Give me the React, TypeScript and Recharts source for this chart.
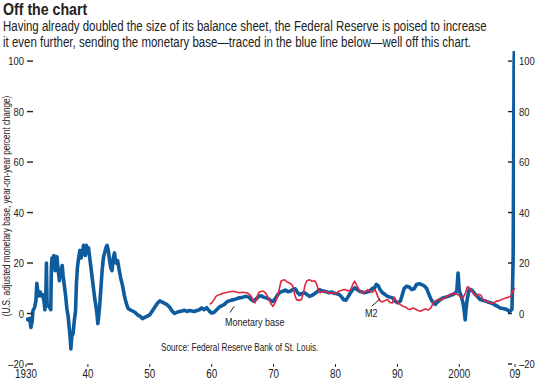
import { LineChart, Line, XAxis, YAxis, ReferenceLine } from 'recharts'

// monetary base, year-on-year % change
const baseYears = [
  1930.0, 1930.3, 1930.6, 1930.8, 1931.0, 1931.1, 1931.4, 1931.6, 1931.75, 1931.9,
  1932.1, 1932.3, 1932.5, 1932.7, 1932.9, 1933.05, 1933.2, 1933.3, 1933.4, 1933.6,
  1933.8, 1934.0, 1934.1, 1934.2, 1934.4, 1934.5, 1934.7, 1934.85, 1935.0, 1935.2,
  1935.4, 1935.6, 1935.85, 1936.0, 1936.2, 1936.4, 1936.6, 1936.8, 1937.0, 1937.15,
  1937.25, 1937.4, 1937.6, 1937.8, 1938.0, 1938.15, 1938.3, 1938.5, 1938.7, 1938.9,
  1939.1, 1939.3, 1939.45, 1939.6, 1939.75, 1939.9, 1940.1, 1940.3, 1940.5, 1940.7,
  1940.9, 1941.1, 1941.3, 1941.5, 1941.6, 1941.75, 1941.9, 1942.1, 1942.3, 1942.5,
  1942.7, 1942.9, 1943.1, 1943.3, 1943.5, 1943.7, 1943.9, 1944.1, 1944.3, 1944.45,
  1944.6, 1944.8, 1945.0, 1945.3, 1945.6, 1945.9, 1946.2, 1946.5, 1946.8, 1947.2,
  1947.6, 1948.0, 1948.4, 1948.8, 1949.2, 1949.6, 1950.0, 1950.4, 1950.8, 1951.2,
  1951.6, 1952.0, 1952.4, 1952.8, 1953.2, 1953.6, 1954.0, 1954.4, 1954.8, 1955.2,
  1955.6, 1956.0, 1956.4, 1956.8, 1957.2, 1957.6, 1958.0, 1958.4, 1958.8, 1959.2,
  1959.6, 1960.0, 1960.4, 1960.8, 1961.2, 1961.6, 1962.0, 1962.4, 1962.8, 1963.2,
  1963.6, 1964.0, 1964.4, 1964.8, 1965.2, 1965.6, 1966.0, 1966.4, 1966.8, 1967.2,
  1967.6, 1968.0, 1968.4, 1968.8, 1969.2, 1969.6, 1969.9, 1970.3, 1970.7, 1971.1,
  1971.5, 1971.9, 1972.3, 1972.7, 1973.1, 1973.5, 1973.9, 1974.2, 1974.6, 1975.0,
  1975.4, 1975.8, 1976.2, 1976.6, 1977.0, 1977.4, 1977.8, 1978.2, 1978.6, 1979.0,
  1979.4, 1979.8, 1980.2, 1980.6, 1981.0, 1981.3, 1981.7, 1982.0, 1982.4, 1982.8,
  1983.1, 1983.5, 1983.9, 1984.3, 1984.7, 1985.1, 1985.5, 1985.9, 1986.3, 1986.6,
  1986.9, 1987.2, 1987.6, 1988.0, 1988.4, 1988.8, 1989.2, 1989.6, 1990.1, 1990.5,
  1990.8, 1991.1, 1991.5, 1991.9, 1992.3, 1992.7, 1993.1, 1993.5, 1993.9, 1994.3,
  1994.7, 1995.0, 1995.4, 1995.8, 1996.1, 1996.5, 1996.9, 1997.4, 1997.8, 1998.2,
  1998.6, 1999.0, 1999.4, 1999.6, 1999.8, 2000.0, 2000.3, 2000.6, 2000.8, 2000.95,
  2001.1, 2001.3, 2001.6, 2001.9, 2002.2, 2002.6, 2003.0, 2003.4, 2003.8, 2004.2,
  2004.6, 2005.0, 2005.4, 2005.8, 2006.2, 2006.6, 2007.0, 2007.4, 2007.8, 2008.1,
  2008.3, 2008.5, 2008.6, 2008.7, 2008.78, 2008.85, 2008.9, 2008.95, 2009.0,
]
const baseValues = [
  -2, -2.5, -2, -5.5, -3, 1, 2.5, 5, 12, 9,
  7, 8.5, 7, 7.5, 5, 1.5, 6, 20, 4, 3,
  2.5, 1.5, 18, 22, 21, 23, 17, 21, 22.5, 17,
  13, 16, 19, 15, 11, 7, 2, -1, -6, -10,
  -14, -9, -8, -3, 1, 12, 18, 22, 25, 22,
  24, 27, 26, 23, 27, 25, 26, 22, 18, 14,
  10, 6, 3, -1, -4, -1, 3, 10, 17, 22,
  24, 26, 27, 25, 21, 18, 17, 22, 24, 21,
  20, 21, 18, 14, 11, 7, 4, 2, 1.5, 1,
  0.5, -0.5, -1, -2, -1.5, -1, -0.5, 1, 2.5, 4,
  5, 4.5, 4, 3.5, 2.5, 1, 0, 0.5, 0.8, 1,
  1.3, 0.8, 1.2, 1, 0.8, 1.2, 1.5, 2.2, 1.5, 2.3,
  1, 0.2, 0.5, 1.5, 2.5, 3, 3.5, 4.5, 5, 5.3,
  5.5, 5.8, 6.2, 6.3, 6.6, 6.8, 6.5, 5.5, 4.9, 5.8,
  6.8, 7, 6.5, 6.2, 5.8, 5, 4.8, 6, 7.5, 8.5,
  8.8, 9.3, 8.6, 8.8, 9.5, 9.8, 8.2, 7.5, 8, 8.2,
  7.5, 6.8, 7.2, 7.8, 8.5, 9.5, 9, 8.8, 8.5, 8.2,
  8.5, 8, 7.8, 7.5, 6.5, 5.5, 5.3, 6.5, 8.2, 9.5,
  10.2, 9.5, 8.8, 8.5, 8.2, 8.5, 8.8, 9.8, 10.2, 11.5,
  11, 9.5, 8.2, 7.5, 6.8, 6.5, 6.2, 5, 4.2, 5,
  7.5, 10, 10.8, 10.5, 9.5, 9.8, 11.5, 11.8, 11.5, 11,
  10, 8.2, 5.8, 4.2, 3.6, 4.6, 5.5, 6.2, 6.5, 6.8,
  7.2, 7.5, 8.2, 9, 16, 9, 7, 4.2, 1, -2.5,
  2, 6, 9.5, 9.5, 8.8, 7.5, 6.5, 5.5, 5.2, 5,
  4.6, 4.3, 4, 3.3, 2.8, 2.2, 2, 1.8, 1.4, 0.8,
  1.2, 1.6, 10, 22, 60, 100, 104, 98, 87,
]

// M2, year-on-year % change
const m2Years = [
  1959.7, 1960.0, 1960.3, 1960.7, 1961.0, 1961.4, 1961.8, 1962.2, 1962.6, 1963.0,
  1963.5, 1964.0, 1964.5, 1965.0, 1965.6, 1966.0, 1966.4, 1966.8, 1967.0, 1967.3,
  1967.6, 1968.0, 1968.4, 1968.8, 1969.2, 1969.6, 1969.9, 1970.2, 1970.6, 1970.9,
  1971.2, 1971.5, 1971.8, 1972.1, 1972.5, 1972.9, 1973.1, 1973.4, 1973.7, 1974.1,
  1974.5, 1974.8, 1975.1, 1975.4, 1975.8, 1976.2, 1976.6, 1976.9, 1977.2, 1977.5,
  1978.0, 1978.5, 1979.0, 1979.6, 1980.0, 1980.5, 1981.0, 1981.5, 1982.0, 1982.4,
  1982.8, 1983.1, 1983.5, 1983.9, 1984.4, 1984.8, 1985.2, 1985.6, 1986.0, 1986.4,
  1986.8, 1987.2, 1987.6, 1988.0, 1988.4, 1988.8, 1989.2, 1989.5, 1989.8, 1990.1,
  1990.5, 1990.9, 1991.3, 1991.7, 1992.1, 1992.5, 1992.9, 1993.3, 1993.7, 1994.1,
  1994.5, 1995.0, 1995.4, 1995.8, 1996.2, 1996.6, 1997.0, 1997.4, 1997.8, 1998.2,
  1998.6, 1999.0, 1999.4, 1999.8, 2000.2, 2000.6, 2001.0, 2001.3, 2001.6, 2001.9,
  2002.3, 2002.7, 2003.1, 2003.5, 2003.9, 2004.3, 2004.7, 2005.1, 2005.5, 2005.9,
  2006.3, 2006.7, 2007.1, 2007.5, 2007.9, 2008.3, 2008.6, 2008.8, 2009.0,
]
const m2Values = [
  3.6, 4.2, 5.2, 6.8, 7.3, 7.5, 8, 8.2, 8.4, 8.6,
  8.8, 8.5, 8.2, 8.4, 8.2, 7.8, 6.8, 4.5, 4.2, 6.5,
  8.3, 8.8, 8.8, 7.8, 6, 3.8, 2.8, 4, 6.5, 9.5,
  12.8, 13.2, 13.4, 12.6, 12.2, 11.5, 10.8, 7.5, 5.5, 5.2,
  5.5, 8, 11.5, 13, 13.4, 12.8, 13, 12, 9.5, 8.2,
  8.8, 8.5, 8, 8.2, 7.8, 8.8, 9.2, 9.5, 9, 9.2,
  11.5, 12.8, 10.8, 9, 8.2, 8.6, 9.5, 8.8, 8.4, 9.5,
  7, 5, 4.6, 5.2, 5.6, 4.4, 4.2, 6.5, 5.2, 4.2,
  3.5, 2.9, 2.6, 1.8, 1.6, 2.2, 1.8, 1.2, 0.9, 1.4,
  1.8, 1.4, 2.2, 4.2, 5.2, 5.6, 5.4, 6, 6.4, 7,
  7.8, 7.5, 8, 7.4, 6.6, 6.2, 8.2, 10.6, 10.2, 9.2,
  8.2, 6.8, 7.6, 7.2, 5.4, 5, 4.6, 4.2, 4, 4.8,
  5, 5.4, 5.8, 6.2, 6.4, 6.8, 8.5, 9.5, 10,
]

const xTicks = [1930, 1940, 1950, 1960, 1970, 1980, 1990, 2000, 2009]
const xTickLabels = ['1930', '40', '50', '60', '70', '80', '90', '2000', '09']
const yTicks = [-20, 0, 20, 40, 60, 80, 100]
const yTickLabels = ['\u201320', '0', '20', '40', '60', '80', '100']

const baseData = baseYears.map((year, i) => ({ year, base: baseValues[i] }))
const m2Data = m2Years.map((year, i) => ({ year, m2: m2Values[i] }))

// Liberation Sans squeezed to 82% ~ Arial Narrow
const FONT = '"Liberation Sans", Arial, sans-serif'
const NARROW = 0.82
const BLUE = '#0e5b9e'
const RED = '#dc2840'
const TEXT = '#222'

interface TickProps {
  x?: number
  y?: number
  payload?: { value: number }
}

interface NarrowTextProps {
  x: number
  y: number
  size: number
  anchor?: 'start' | 'middle' | 'end'
  rotate?: number
  bold?: boolean
  children: React.ReactNode
}

const NarrowText = ({ x, y, size, anchor = 'start', rotate = 0, bold, children }: NarrowTextProps) => (
  <text
    transform={`translate(${x},${y}) rotate(${rotate}) scale(${NARROW},1)`}
    fontSize={size}
    fontFamily={FONT}
    fontWeight={bold ? 'bold' : 'normal'}
    textAnchor={anchor}
    fill={TEXT}
  >
    {children}
  </text>
)

const LeftTick = ({ y = 0, payload }: TickProps) => (
  <g>
    <line x1={27} x2={33} y1={y} y2={y} stroke={TEXT} strokeWidth={1.4} />
    <NarrowText x={24} y={y + 4} size={11.5} anchor="end">
      {yTickLabels[yTicks.indexOf(payload?.value ?? 0)]}
    </NarrowText>
  </g>
)

const RightTick = ({ y = 0, payload }: TickProps) => (
  <g>
    <line x1={508} x2={512} y1={y} y2={y} stroke={TEXT} strokeWidth={1.4} />
    <NarrowText x={519} y={y + 4} size={11.5}>
      {yTickLabels[yTicks.indexOf(payload?.value ?? 0)]}
    </NarrowText>
  </g>
)

const BottomTick = ({ x = 0, payload }: TickProps) => (
  <g>
    <line x1={x} x2={x} y1={364} y2={367} stroke={TEXT} strokeWidth={1} />
    <NarrowText x={x} y={378} size={12} anchor="middle">
      {xTickLabels[xTicks.indexOf(payload?.value ?? 0)]}
    </NarrowText>
  </g>
)

export default function App() {
  return (
    <div style={{ position: 'absolute', left: 0, top: 0, width: 535, height: 380, background: '#fff' }}>
      <LineChart width={535} height={380} margin={{ top: 51, right: 0, bottom: 0, left: 0 }}>
        <XAxis
          dataKey="year"
          type="number"
          domain={[1930, 2009]}
          ticks={xTicks}
          height={16}
          axisLine={false}
          tickLine={false}
          tick={<BottomTick />}
          allowDataOverflow
        />
        <YAxis
          yAxisId="left"
          type="number"
          domain={[-20, 104]}
          ticks={yTicks}
          width={26}
          axisLine={false}
          tickLine={false}
          tick={<LeftTick />}
          interval={0}
          allowDataOverflow
        />
        <YAxis
          yAxisId="right"
          orientation="right"
          type="number"
          domain={[-20, 104]}
          ticks={yTicks}
          width={20}
          axisLine={false}
          tickLine={false}
          tick={<RightTick />}
          interval={0}
          allowDataOverflow
        />
        <Line
          yAxisId="left"
          data={baseData}
          dataKey="base"
          stroke={BLUE}
          strokeWidth={3.6}
          dot={false}
          activeDot={false}
          strokeLinejoin="round"
          isAnimationActive={false}
        />
        <Line
          yAxisId="left"
          data={m2Data}
          dataKey="m2"
          stroke={RED}
          strokeWidth={1.6}
          dot={false}
          activeDot={false}
          strokeLinejoin="round"
          isAnimationActive={false}
        />
        {/* leader lines for the series labels */}
        <ReferenceLine
          yAxisId="left"
          segment={[{ x: 1962.95, y: 0.4 }, { x: 1963.65, y: 2.9 }]}
          stroke={TEXT}
          strokeWidth={1}
        />
        <ReferenceLine
          yAxisId="left"
          segment={[{ x: 1985.85, y: 2.9 }, { x: 1987.2, y: 5.8 }]}
          stroke={TEXT}
          strokeWidth={1}
        />
      </LineChart>

      <svg width={535} height={380} style={{ position: 'absolute', left: 0, top: 0, pointerEvents: 'none' }}>
        <NarrowText x={3} y={15} size={17.3} bold>Off the chart</NarrowText>
        <NarrowText x={3} y={31} size={14}>
          Having already doubled the size of its balance sheet, the Federal Reserve is poised to increase
        </NarrowText>
        <NarrowText x={3} y={47} size={14}>
          it even further, sending the monetary base{'\u2014'}traced in the blue line below{'\u2014'}well off this chart.
        </NarrowText>
        <NarrowText x={10} y={206} size={10} anchor="middle" rotate={-90}>
          (U.S. adjusted monetary base, year-on-year percent change)
        </NarrowText>
        <NarrowText x={225} y={326} size={11}>Monetary base</NarrowText>
        <NarrowText x={365} y={317} size={11}>M2</NarrowText>
        <NarrowText x={161} y={351} size={10}>Source: Federal Reserve Bank of St. Louis.</NarrowText>
      </svg>
    </div>
  )
}
